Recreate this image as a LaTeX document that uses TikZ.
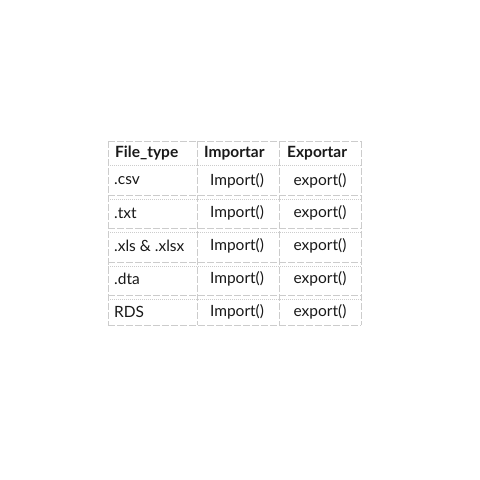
\documentclass[tikz,border=0pt]{standalone}
\usepackage{fontspec}
\setmainfont{Lato}
\usepackage{tikz}
\usetikzlibrary{positioning}
\tikzset{rule/.style = {draw = tabgray, line width = 0.8pt, dash pattern = on 7pt off 2pt}}
\tikzset{dotrule/.style = {draw = tabgray, line width = 0.8pt, dash pattern = on 1pt off 1pt}}
\tikzset{head/.style = {anchor = west, inner sep = 0, text = tabtext, font = \fontsize{15.5}{18}\selectfont\bfseries}}
\tikzset{cellL/.style = {anchor = west, inner sep = 0, text = tabtext, font = \fontsize{15.5}{18}\selectfont}}
\tikzset{cellC/.style = {anchor = center, inner sep = 0, text = tabtext, font = \fontsize{15.5}{18}\selectfont}}
\definecolor{tabgray}{rgb}{0.8, 0.8, 0.8}
\definecolor{tabtext}{rgb}{0.1, 0.1, 0.1}

\begin{document}
\begin{tikzpicture}[x = 1pt, y = -1pt]
      \useasboundingbox (0, 0) rectangle (480, 480);

      % grid
      \foreach \x in {108, 197, 279, 361}
        \draw [rule] (\x, 141) -- (\x, 325);
      \draw [rule] (108, 141) -- (361, 141);
      \draw [dotrule] (108, 165) -- (361, 165);
      \foreach \y in {195, 228, 262, 295}
        {
          \draw [rule] (108, \y) -- (361, \y);
          \draw [dotrule] (108, \y + 4) -- (361, \y + 4);
        }
      \draw [rule] (108, 325) -- (361, 325);

      % header
      \node [head] (hType) at (115, 153) {File\_type};
      \node [head] (hImp) at (204, 153) {Importar};
      \node [head] (hExp) at (287, 153) {Exportar};

      % rows
      \node [cellL] (csv) at (114, 181) {.csv};
      \node [cellC] (csvImp) at (237, 181) {Import()};
      \node [cellC] (csvExp) at (320, 181) {export()};

      \node [cellL] (txt) at (114, 213) {.txt};
      \node [cellC] (txtImp) at (237, 213) {Import()};
      \node [cellC] (txtExp) at (320, 213) {export()};

      \node [cellL] (xls) at (114, 246) {.xls \& .xlsx};
      \node [cellC] (xlsImp) at (237, 246) {Import()};
      \node [cellC] (xlsExp) at (320, 246) {export()};

      \node [cellL] (dta) at (114, 279) {.dta};
      \node [cellC] (dtaImp) at (237, 279) {Import()};
      \node [cellC] (dtaExp) at (320, 279) {export()};

      \node [cellL] (rds) at (114, 312) {RDS};
      \node [cellC] (rdsImp) at (237, 312) {Import()};
      \node [cellC] (rdsExp) at (320, 312) {export()};
    \end{tikzpicture}
\end{document}
